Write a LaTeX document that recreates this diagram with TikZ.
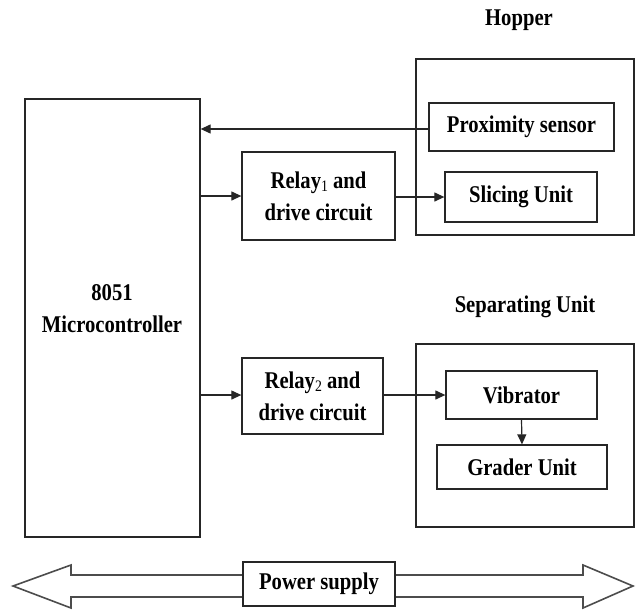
\documentclass[tikz,border=0pt]{standalone}
\usepackage{fontspec}
\setmainfont{Liberation Serif}[FakeStretch=0.86]
\usetikzlibrary{arrows.meta}
\begin{document}
\begin{tikzpicture}[x=1pt,y=-1pt,
  every node/.style={font=\fontsize{24}{32}\selectfont\bfseries},
  blk/.style={draw=black!85,line width=1.3pt,fill=white,inner sep=0pt,align=center},
  txt/.style={inner sep=0pt,align=center},
  conn/.style={draw=black!85,line width=1.2pt,-{Triangle[length=10pt,width=9pt]}},
]
\useasboundingbox (0,0) rectangle (636,611);
\newcommand{\sbone}[1]{{\fontsize{16}{16}\selectfont\mdseries\raisebox{-3pt}{#1}}}
% power supply double arrow
\draw[draw=black!70,line width=1.6pt,fill=white,line join=miter]
  (13,586) -- (71,565) -- (71,575) -- (583,575) -- (583,565) -- (633,586)
  -- (583,608) -- (583,597) -- (71,597) -- (71,608) -- cycle;
\node[blk,minimum width=152pt,minimum height=44pt] (power) at (319,584) {Power supply};
% micro
\node[blk,minimum width=175pt,minimum height=438pt] (micro) at (112.5,318) {};
\node[txt] (microtext) at (112,309) {8051\\Microcontroller};
% hopper
\node[txt] (hopperlabel) at (519,20) {Hopper};
\node[blk,minimum width=218pt,minimum height=176pt] (hopper) at (525,147) {};
\node[blk,minimum width=185pt,minimum height=48pt] (prox) at (521.5,127) {Proximity sensor};
\node[blk,minimum width=152pt,minimum height=50pt] (slicing) at (521,197) {Slicing Unit};
\node[blk,minimum width=153pt,minimum height=88pt] (relay1) at (318.5,196) {Relay\sbone{1} and\\drive circuit};
% separating
\node[txt] (seplabel) at (525,307) {Separating Unit};
\node[blk,minimum width=218pt,minimum height=183pt] (sep) at (525,435.5) {};
\node[blk,minimum width=151pt,minimum height=48pt] (vib) at (521.5,395) {Vibrator};
\node[blk,minimum width=170pt,minimum height=44pt] (grader) at (522,467) {Grader Unit};
\node[blk,minimum width=141pt,minimum height=76pt] (relay2) at (312.5,396) {Relay\sbone{2} and\\drive circuit};
% connectors
\coordinate (proxout) at ([yshift=-2pt]prox.west);
\draw[conn] (proxout) -- (micro.east |- proxout);
\draw[conn] (micro.east |- relay1.west) -- (relay1.west);
\draw[conn] (relay1.east |- slicing.west) -- (slicing.west);
\draw[conn] (micro.east |- vib.west) -- (relay2.west |- vib.west);
\draw[conn] (relay2.east |- vib.west) -- (vib.west);
\draw[conn] (vib.south) -- (grader.north);
\end{tikzpicture}
\end{document}
